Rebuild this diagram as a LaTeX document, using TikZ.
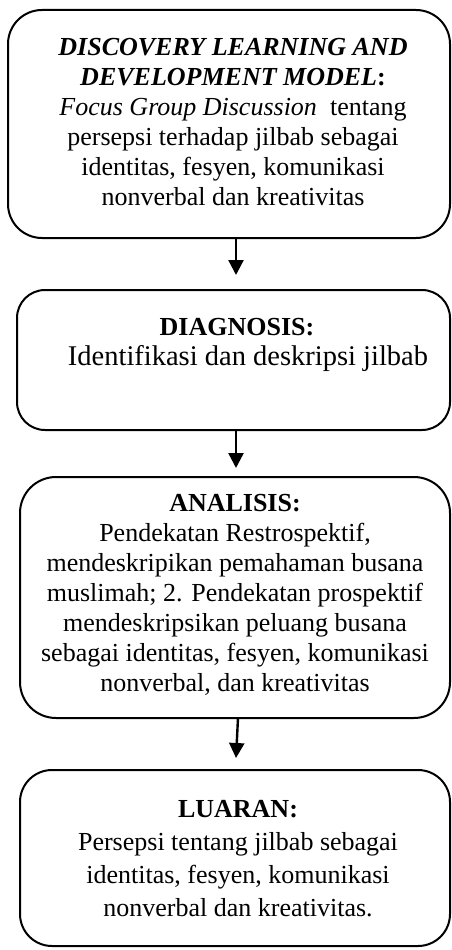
\documentclass[tikz,border=0pt]{standalone}
\usepackage{fontspec}
\setmainfont{Liberation Serif}
\usetikzlibrary{arrows.meta}
\begin{document}
\begin{tikzpicture}[x=1pt,y=-1pt,
  box/.style={draw=black,line width=2pt,rounded corners=#1},
  txt/.style={align=center,inner sep=0pt,font=\fontsize{26}{30}\selectfont},
  arr/.style={line width=2.4pt,-{Triangle[width=15pt,length=15pt]}}]
\useasboundingbox (0,0) rectangle (452,950);
% boxes
\draw[box=34] (8,10) rectangle (450,238);
\coordinate (b1s) at (236,238);
\draw[box=28] (17,290) rectangle (450,430);
\coordinate (b2n) at (236,290);
\coordinate (b2s) at (236,430);
\draw[box=36] (20,477) rectangle (450,718);
\coordinate (b3n) at (236,477);
\coordinate (b3s) at (238,718);
\draw[box=32] (20,770) rectangle (450,946);
\coordinate (b4n) at (236,770);
% texts
\node[txt] (t1) at (233,122) {\textbf{\textit{DISCOVERY LEARNING AND}}\\\textbf{\textit{DEVELOPMENT MODEL}:}\\\textit{Focus Group Discussion}\ \ tentang\\persepsi terhadap jilbab sebagai\\identitas, fesyen, komunikasi\\nonverbal dan kreativitas};
\node[txt] (t2) at (248,345) {\textbf{DIAGNOSIS:}\hspace*{22pt}\\{\fontsize{28.5}{30}\selectfont Identifikasi dan deskripsi jilbab}};
\node[txt] (t3) at (235,595) {\textbf{ANALISIS:}\\Pendekatan Restrospektif,\\mendeskripikan pemahaman busana\\muslimah; 2. Pendekatan prospektif\\mendeskripsikan peluang busana\\sebagai identitas, fesyen, komunikasi\\nonverbal, dan kreativitas};
\node[txt,font=\fontsize{26}{33}\selectfont] (t4) at (238,859) {\textbf{LUARAN:}\\Persepsi tentang jilbab sebagai\\identitas, fesyen, komunikasi\\nonverbal dan kreativitas.};
% arrows
\coordinate (e1) at (236,275);
\coordinate (e2) at (236,468);
\coordinate (e3) at (236,758);
\draw[arr] (b1s) -- (e1);
\draw[arr] (b2s) -- (e2);
\draw[arr] (b3s) -- (e3);
\end{tikzpicture}
\end{document}
